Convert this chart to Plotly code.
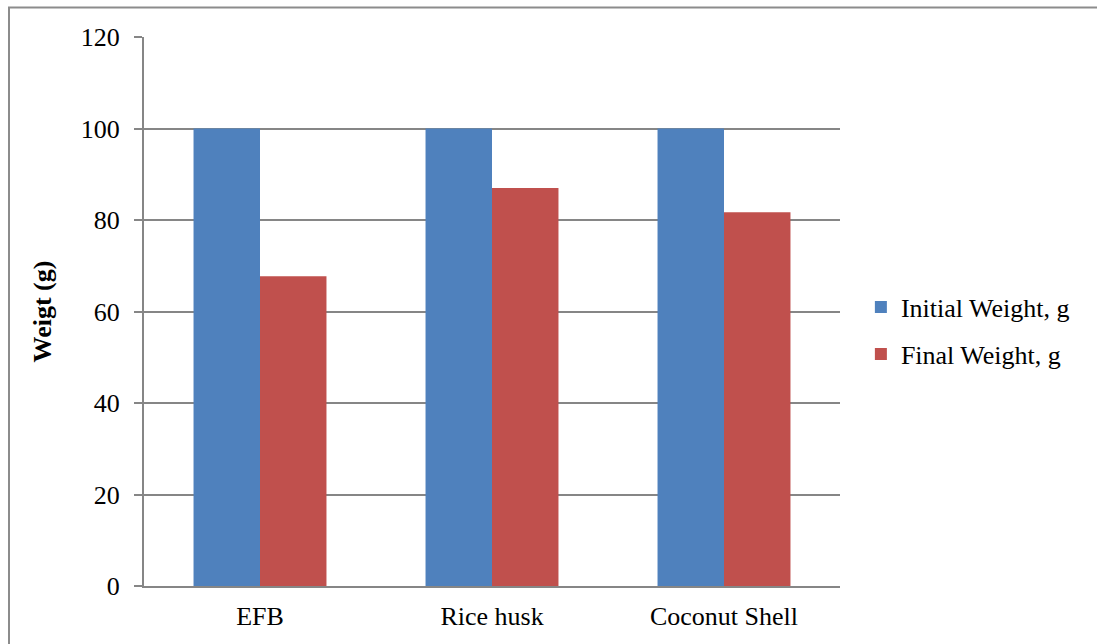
import plotly.graph_objects as go

categories = ["EFB", "Rice husk", "Coconut Shell"]
initial_weight = [100, 100, 100]
final_weight = [67.7, 87.0, 81.7]
y_ticks = [0, 20, 40, 60, 80, 100, 120]

W, H = 1097, 644
L, R, T, B = 144, 840, 37, 586

fig = go.Figure()
fig.add_trace(go.Bar(x=categories, y=initial_weight, name="Initial Weight, g",
                     marker=dict(color="#4F81BD", line=dict(width=0)),
                     legendgroup="a"))
fig.add_trace(go.Bar(x=categories, y=final_weight, name="Final Weight, g",
                     marker=dict(color="#C0504D", line=dict(width=0)),
                     legendgroup="b"))

font = "Liberation Serif, Times New Roman, serif"
fig.update_layout(
    width=W, height=H,
    margin=dict(l=L, r=W - R, t=T, b=H - B, pad=0),
    paper_bgcolor="white", plot_bgcolor="white",
    barmode="group", bargap=0.427, bargroupgap=0,
    font=dict(family=font, size=26, color="black"),
    legend=dict(x=1.03, y=0.465, xanchor="left", yanchor="middle",
                font=dict(size=26), traceorder="grouped", tracegroupgap=10,
                itemwidth=30, bgcolor="rgba(0,0,0,0)"),
    xaxis=dict(showline=True, linecolor="#868686", linewidth=2,
               ticks="", showgrid=False,
               tickfont=dict(size=26), ticklabelstandoff=6),
    yaxis=dict(range=[0, 120], tickvals=y_ticks, showline=True,
               linecolor="#868686", linewidth=2, ticks="outside", ticklen=8,
               tickcolor="#868686", tickwidth=2, showgrid=True,
               gridcolor="#868686", gridwidth=2, zeroline=False,
               tickfont=dict(size=26), ticklabelstandoff=9,
               title=dict(text="<b>Weigt (g)</b>", font=dict(size=26), standoff=22)),
    shapes=[dict(type="rect", xref="paper", yref="paper",
                 x0=(9 - L) / (R - L), x1=1.6,
                 y0=-0.3, y1=(B - 7.5) / (B - T),
                 line=dict(color="#8C8C8C", width=2), fillcolor="rgba(0,0,0,0)",
                 layer="below")],
)

fig.write_html("out.html")
